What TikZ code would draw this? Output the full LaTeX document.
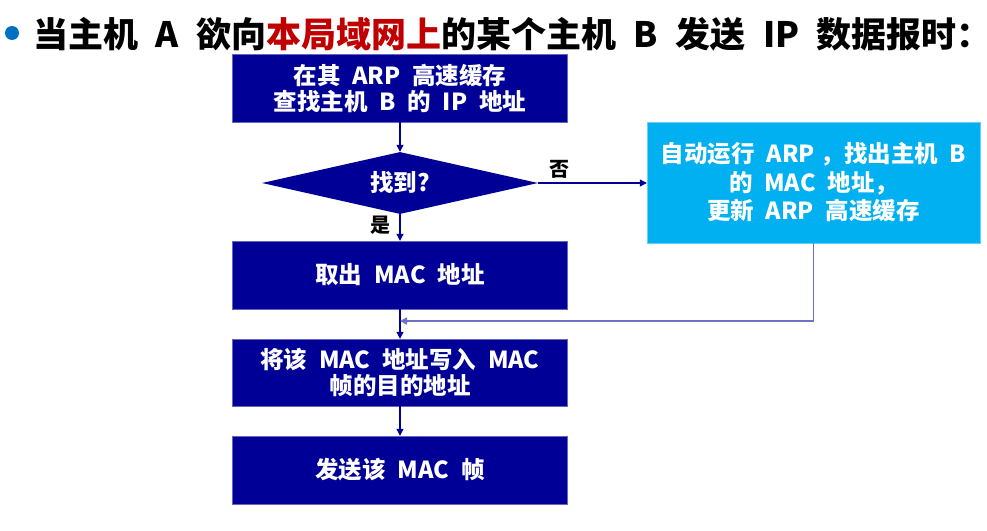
\documentclass[tikz,border=0pt]{standalone}
\usepackage{fontspec}
\setmainfont{Noto Sans CJK SC}
\usetikzlibrary{shapes.geometric,arrows.meta}
\definecolor{navy}{HTML}{000096}
\definecolor{sky}{HTML}{00B0F0}
\definecolor{bullet}{HTML}{0070C0}
\definecolor{hl}{HTML}{C00000}
\definecolor{ret}{HTML}{7070C8}
\newcommand{\gap}{\hspace{0.5em}}
\tikzset{
  box/.style={draw=navy!60, fill=navy, text=white, font=\fontsize{23.5}{26}\selectfont\bfseries, align=center, minimum width=335pt, minimum height=68pt, inner sep=0pt},
  skybox/.style={draw=sky!60, fill=sky, text=white, font=\fontsize{23.5}{28.5}\selectfont\bfseries, align=center, minimum width=333pt, minimum height=121pt, inner sep=0pt},
  dia/.style={diamond, fill=navy, text=white, font=\fontsize{23.5}{26}\selectfont\bfseries, aspect=4.45, minimum width=276pt, minimum height=62pt, inner sep=0pt},
  flow/.style={draw=navy, line width=1.1pt, -{Triangle[length=7pt,width=7pt]}},
  retflow/.style={draw=ret, line width=1.6pt, -{Triangle[length=7pt,width=7pt]}},
  lab/.style={font=\fontsize{20}{22}\selectfont\bfseries, text=black}
}
\begin{document}
\begin{tikzpicture}[x=1pt,y=-1pt]
\useasboundingbox (0,0) rectangle (987,530);
\fill[bullet] (12,33) circle (7);
\node[anchor=west, inner sep=0pt, font=\fontsize{35}{37}\selectfont\bfseries] (title) at (33,34)
  {当主机\gap A\gap 欲向\textcolor{hl}{本局域网上}的某个主机\gap B\gap 发送\gap IP\gap 数据报时\makebox[0.3em][l]{：}};
\node[box] (b1) at (400,88) {在其\gap ARP\gap 高速缓存\\查找主机\gap B\gap 的\gap IP\gap 地址};
\node[dia] (d) at (400,183) {找到?};
\node[skybox] (rb) at (813.5,182.5) {自动运行\gap ARP\hspace{0.25em}，找出主机\gap B\\的\gap MAC\gap 地址，\\更新\gap ARP\gap 高速缓存};
\node[box] (b2) at (400,275) {取出\gap MAC\gap 地址};
\node[box, minimum height=67pt] (b3) at (400,372.5) {将该\gap MAC\gap 地址写入\gap MAC\\帧的目的地址};
\node[box] (b4) at (400,470) {发送该\gap MAC\gap 帧};
\coordinate (j) at (400,321);
\draw[flow] (b1) -- (d);
\draw[flow] (d) -- node[lab, pos=0.4, left=6pt] (yes) {是} (b2);
\draw[flow] (d.east) -- node[lab, pos=0.2, above=1pt] (no) {否} (rb.west |- d.east);
\draw[flow] (b2) -- (b3);
\draw[flow] (b3) -- (b4);
\draw[retflow] (rb.south) |- (j);
\end{tikzpicture}
\end{document}
